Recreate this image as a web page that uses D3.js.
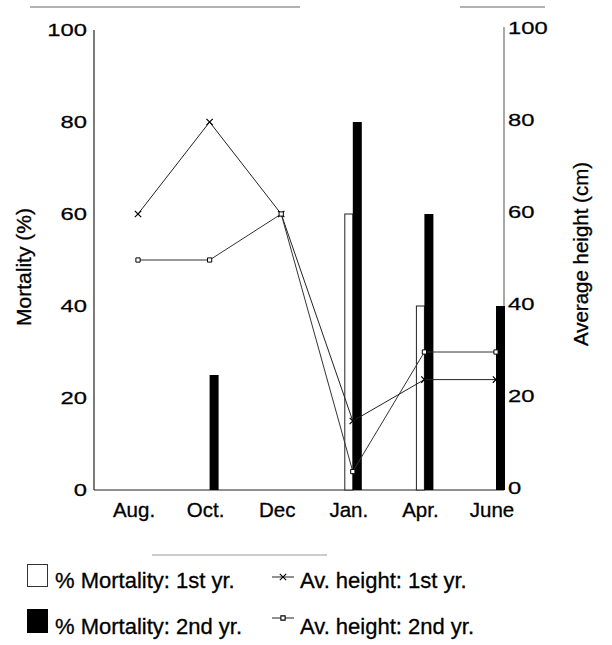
<!DOCTYPE html>
<html>
<head>
<meta charset="utf-8">
<script src="https://cdn.jsdelivr.net/npm/d3@7"></script>
<style>
  html, body { margin: 0; padding: 0; background: #fff; }
  svg { display: block; font-family: "Liberation Sans", Arial, Helvetica, sans-serif; }
  text { fill: #000; stroke: #000; stroke-width: 0.3px; }
</style>
</head>
<body>
<svg id="chart" width="612" height="645"></svg>
<script>
// ---- data ----
const categories = ["Aug.", "Oct.", "Dec", "Jan.", "Apr.", "June"];
const mortality1st = [0, 0, 0, 60, 40, 0];     // % mortality, 1st yr (white bars)
const mortality2nd = [0, 25, 0, 80, 60, 40];   // % mortality, 2nd yr (black bars)
const height1st = [60, 80, 60, 15, 24, 24];    // average height (cm), 1st yr
const height2nd = [50, 50, 60, 4, 30, 30];     // average height (cm), 2nd yr
const yTicks = [0, 20, 40, 60, 80, 100];
const legendBars = ["% Mortality: 1st yr.", "% Mortality: 2nd yr."];
const legendLines = ["Av. height: 1st yr.", "Av. height: 2nd yr."];

// ---- layout ----
const svg = d3.select("#chart");
const plotL = 94, plotR = 504, plotT = 30, plotB = 490;
const barW = 8;

const x = d3.scalePoint().domain(categories).range([138, 496]);
const yL = d3.scaleLinear().domain([0, 100]).range([plotB, plotT]);
const yR = d3.scaleLinear().domain([0, 100]).range([plotB, plotT]);

// scan frame lines
svg.append("line").attr("x1", 30).attr("x2", 300).attr("y1", 7).attr("y2", 7)
  .attr("stroke", "#666").attr("stroke-width", 1);
svg.append("line").attr("x1", 460).attr("x2", 545).attr("y1", 7).attr("y2", 7)
  .attr("stroke", "#666").attr("stroke-width", 1);
svg.append("line").attr("x1", 152).attr("x2", 327).attr("y1", 555).attr("y2", 555)
  .attr("stroke", "#999").attr("stroke-width", 1);

// axes lines
svg.append("line").attr("x1", plotL).attr("x2", plotL).attr("y1", plotT).attr("y2", plotB)
  .attr("stroke", "#222").attr("stroke-width", 1.2);
svg.append("line").attr("x1", plotR).attr("x2", plotR).attr("y1", plotT - 3).attr("y2", plotB)
  .attr("stroke", "#555").attr("stroke-width", 1);
svg.append("line").attr("x1", plotL).attr("x2", plotR).attr("y1", plotB).attr("y2", plotB)
  .attr("stroke", "#222").attr("stroke-width", 1.2);

// tick labels (wide glyphs)
const tickG = svg.append("g").attr("font-size", 17);
tickG.selectAll("text.l").data(yTicks).join("text").attr("class", "l")
  .attr("text-anchor", "end").attr("dy", "0.36em").style("stroke-width", "0.25px")
  .attr("transform", d => `translate(87,${yL(d)}) scale(1.4,1)`)
  .text(d => d);
tickG.selectAll("text.r").data(yTicks).join("text").attr("class", "r")
  .attr("text-anchor", "start").attr("dy", "0.36em").style("stroke-width", "0.25px")
  .attr("transform", d => `translate(508,${yR(d) - 2}) scale(1.4,1)`)
  .text(d => d);

// x labels
svg.append("g").attr("font-size", 20.5)
  .selectAll("text").data(categories).join("text")
  .attr("x", d => x(d) - 4).attr("y", 517).attr("text-anchor", "middle")
  .text(d => d);

// axis titles
svg.append("text").attr("font-size", 21).attr("text-anchor", "middle")
  .attr("transform", "translate(31,267) rotate(-90)").text("Mortality (%)");
svg.append("text").attr("font-size", 20.5).attr("text-anchor", "middle")
  .attr("transform", "translate(588,254) rotate(-90)").text("Average height (cm)");

// bars
const bars = svg.append("g");
bars.selectAll("rect.m1").data(categories.map((c, i) => ({ c, v: mortality1st[i] })).filter(d => d.v > 0))
  .join("rect").attr("class", "m1")
  .attr("x", d => x(d.c) - barW).attr("width", barW)
  .attr("y", d => yL(d.v)).attr("height", d => yL(0) - yL(d.v))
  .attr("fill", "#fff").attr("stroke", "#222").attr("stroke-width", 1);
bars.selectAll("rect.m2").data(categories.map((c, i) => ({ c, v: mortality2nd[i] })).filter(d => d.v > 0))
  .join("rect").attr("class", "m2")
  .attr("x", d => x(d.c)).attr("width", barW + 1)
  .attr("y", d => yL(d.v)).attr("height", d => yL(0) - yL(d.v))
  .attr("fill", "#000");

// lines
const line = d3.line().x(d => x(d.c)).y(d => yR(d.v));
const s1 = categories.map((c, i) => ({ c, v: height1st[i] }));
const s2 = categories.map((c, i) => ({ c, v: height2nd[i] }));
svg.append("path").datum(s1).attr("d", line).attr("fill", "none").attr("stroke", "#222").attr("stroke-width", 1);
svg.append("path").datum(s2).attr("d", line).attr("fill", "none").attr("stroke", "#333").attr("stroke-width", 1);

const xSym = d3.symbol(d3.symbolX, 28);
const sqSym = d3.symbol(d3.symbolSquare, 18);
svg.append("g").selectAll("path").data(s1).join("path")
  .attr("transform", d => `translate(${x(d.c)},${yR(d.v)})`)
  .attr("d", xSym).attr("fill", "none").attr("stroke", "#000").attr("stroke-width", 1.2);
svg.append("g").selectAll("path").data(s2).join("path")
  .attr("transform", d => `translate(${x(d.c)},${yR(d.v)})`)
  .attr("d", sqSym).attr("fill", "#fff").attr("stroke", "#000").attr("stroke-width", 1);

// legend
const lg = svg.append("g").attr("font-size", 22);
lg.append("rect").attr("x", 27.5).attr("y", 564.5).attr("width", 20).attr("height", 22)
  .attr("fill", "#fff").attr("stroke", "#333").attr("stroke-width", 1);
lg.append("rect").attr("x", 27).attr("y", 609).attr("width", 21).attr("height", 24).attr("fill", "#000");
lg.selectAll("text.b").data(legendBars).join("text").attr("class", "b")
  .attr("x", 55).attr("y", (d, i) => i === 0 ? 588 : 634).text(d => d);
lg.selectAll("text.ln").data(legendLines).join("text").attr("class", "ln")
  .attr("x", 300).attr("y", (d, i) => i === 0 ? 588 : 634).text(d => d);
[577, 618].forEach((yy, i) => {
  lg.append("line").attr("x1", 272).attr("x2", 294).attr("y1", yy).attr("y2", yy)
    .attr("stroke", "#222").attr("stroke-width", 1);
  lg.append("path").attr("transform", `translate(283,${yy})`)
    .attr("d", i === 0 ? xSym : sqSym)
    .attr("fill", i === 0 ? "none" : "#fff").attr("stroke", "#000").attr("stroke-width", 1.1);
});
</script>
</body>
</html>
